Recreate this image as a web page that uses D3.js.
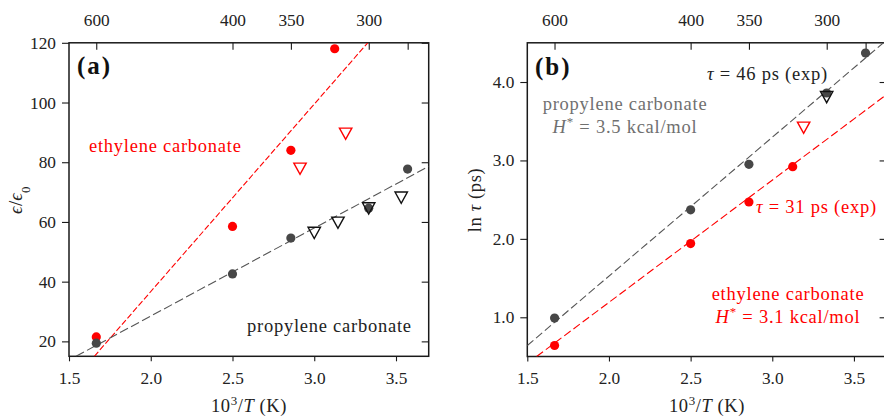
<!DOCTYPE html>
<html>
<head>
<meta charset="utf-8">
<script src="https://cdn.jsdelivr.net/npm/d3@7"></script>
<style>
  html, body { margin: 0; padding: 0; background: #fff; }
  svg { display: block; }
  text { font-family: "Liberation Serif", "DejaVu Serif"; }
</style>
</head>
<body>
<svg id="fig" width="884" height="417"></svg>
<script>
// ---------- data ----------
// temperatures shown on the secondary (top) axis, in K
const topTemps = [600, 400, 350, 300, 280];
const topTempLabels = ["600", "400", "350", "300", ""];
const xTicks = [1.5, 2.0, 2.5, 3.0, 3.5];

// (a) static dielectric constant vs 1000/T
const ecEpsX = [1.667, 2.5, 2.857, 3.125];
const ecEpsY = [21.5, 58.5, 84.0, 118.0];
const ecEpsExpX = [2.913, 3.192];
const ecEpsExpY = [77.9, 89.6];
const pcEpsX = [1.667, 2.5, 2.857, 3.333, 3.571];
const pcEpsY = [19.4, 42.6, 54.6, 64.6, 77.7];
const pcEpsExpX = [3.0, 3.145, 3.333, 3.532];
const pcEpsExpY = [56.4, 59.8, 64.6, 68.2];
const ecEpsFit = [[1.655, 15], [3.327, 120]];
const pcEpsFit = [[1.543, 15], [3.70, 78.6]];
const epsTicks = [20, 40, 60, 80, 100, 120];

// (b) ln of dielectric relaxation time vs 1000/T
const pcTauX = [1.667, 2.5, 2.857, 3.333, 3.571];
const pcTauY = [0.99, 2.37, 2.95, 3.86, 4.37];
const pcTauExpX = [3.333];
const pcTauExpY = [3.81];
const ecTauX = [1.667, 2.5, 2.857, 3.125];
const ecTauY = [0.64, 1.94, 2.47, 2.92];
const ecTauExpX = [3.192];
const ecTauExpY = [3.42];
const pcTauFit = [[1.50, 0.64], [3.70, 4.535]];
const ecTauFit = [[1.557, 0.5], [3.70, 3.84]];
const tauTicks = [1.0, 2.0, 3.0, 4.0];

// ---------- styling ----------
const RED = "#ff0000";
const DARK = "#474747";
const AXIS = "#1a1a1a";
const FONT = "'Liberation Serif', 'DejaVu Serif'";

const svg = d3.select("#fig");
const zip = (xs, ys) => xs.map((x, i) => ({ x, y: ys[i] }));

function panel(opts) {
  const { id, xRange, yDomain, yRange, yTicks, yFmt } = opts;
  const x = d3.scaleLinear().domain([1.5, 3.7]).range(xRange);
  const y = d3.scaleLinear().domain(yDomain).range(yRange);
  const g = svg.append("g").attr("class", "panel-" + id);

  const clipId = "clip-" + id;
  svg.append("clipPath").attr("id", clipId)
    .append("rect")
    .attr("x", xRange[0]).attr("y", yRange[1])
    .attr("width", xRange[1] - xRange[0]).attr("height", yRange[0] - yRange[1]);

  const styleAxis = sel => {
    sel.select(".domain").remove();
    sel.selectAll(".tick line").attr("stroke", AXIS).attr("stroke-width", 1.1);
    sel.selectAll(".tick text")
      .attr("fill", "#222").attr("font-size", 17.3)
      .style("font-family", FONT);
  };

  // bottom axis (outward ticks)
  g.append("g").attr("transform", `translate(0,${yRange[0]})`)
    .call(d3.axisBottom(x).tickValues(xTicks).tickFormat(d3.format(".1f"))
      .tickSizeInner(5).tickSizeOuter(0).tickPadding(10))
    .call(styleAxis);

  // left axis (outward ticks)
  g.append("g").attr("transform", `translate(${xRange[0]},0)`)
    .call(d3.axisLeft(y).tickValues(yTicks).tickFormat(yFmt)
      .tickSizeInner(7).tickSizeOuter(0).tickPadding(6))
    .call(styleAxis);

  // right axis (inward ticks, no labels)
  g.append("g").attr("transform", `translate(${xRange[1]},0)`)
    .call(d3.axisLeft(y).tickValues(yTicks).tickFormat("")
      .tickSizeInner(0).tickSizeOuter(0))
    .call(sel => {
      sel.select(".domain").remove();
      sel.selectAll(".tick line").attr("x1", -7).attr("x2", 0)
        .attr("stroke", AXIS).attr("stroke-width", 1.1);
    });

  // top axis: temperature in K at 1000/T (inward ticks)
  const topAxis = d3.axisTop(x)
    .tickValues(topTemps.map(t => 1000 / t))
    .tickFormat((d, i) => topTempLabels[i])
    .tickSizeInner(0).tickSizeOuter(0).tickPadding(17);
  g.append("g").attr("transform", `translate(0,${yRange[1]})`)
    .call(topAxis)
    .call(styleAxis)
    .call(sel => sel.selectAll(".tick line").attr("y1", 0).attr("y2", 7));

  // frame
  g.append("rect")
    .attr("x", xRange[0]).attr("y", yRange[1])
    .attr("width", xRange[1] - xRange[0]).attr("height", yRange[0] - yRange[1])
    .attr("fill", "none").attr("stroke", AXIS).attr("stroke-width", 1.5);

  const plot = g.append("g").attr("clip-path", `url(#${clipId})`);
  const line = d3.line().x(d => x(d[0])).y(d => y(d[1]));

  return { x, y, g, plot, line };
}

function fitLine(p, pts, color, dash) {
  p.plot.append("path").datum(pts)
    .attr("d", p.line).attr("fill", "none")
    .attr("stroke", color).attr("stroke-width", 1.1)
    .attr("stroke-dasharray", dash);
}
function dots(p, xs, ys, color) {
  p.g.append("g").selectAll("circle").data(zip(xs, ys)).join("circle")
    .attr("cx", d => p.x(d.x)).attr("cy", d => p.y(d.y))
    .attr("r", 4.6).attr("fill", color);
}
const triPath = "M-6.2,-5.4L6.2,-5.4L0,5.8Z";
function tris(p, xs, ys, color) {
  p.g.append("g").selectAll("path").data(zip(xs, ys)).join("path")
    .attr("transform", d => `translate(${p.x(d.x)},${p.y(d.y)})`)
    .attr("d", triPath).attr("fill", "none")
    .attr("stroke", color).attr("stroke-width", 1.4)
    .attr("stroke-linejoin", "miter");
}
function label(p, x, y, color, parts, opts = {}) {
  const t = p.g.append("text").attr("x", x).attr("y", y)
    .attr("fill", color).attr("font-size", opts.size || 18.5)
    .attr("letter-spacing", opts.ls != null ? opts.ls : 0.75)
    .style("font-family", FONT)
    .attr("text-anchor", opts.anchor || "start");
  parts.forEach(s => {
    const ts = t.append("tspan").text(s.t);
    if (s.i) ts.attr("font-style", "italic");
    if (s.sup) ts.attr("baseline-shift", "super").attr("font-size", "70%");
    if (s.sub) ts.attr("baseline-shift", "sub").attr("font-size", "70%");
  });
  return t;
}
function panelTag(p, x, y, txt) {
  p.g.append("text").attr("x", x).attr("y", y)
    .attr("font-size", 25).attr("font-weight", "bold").attr("letter-spacing", 2)
    .style("font-family", FONT).attr("fill", "#111").text(txt);
}

// ---------- panel (a) ----------
const A = panel({
  id: "a", xRange: [69, 428.7], yDomain: [15, 120], yRange: [356.3, 42.8],
  yTicks: epsTicks, yFmt: d3.format("d")
});
fitLine(A, ecEpsFit, RED, "6,2.4");
fitLine(A, pcEpsFit, "#555", "9,3.5");
dots(A, ecEpsX, ecEpsY, RED);
dots(A, pcEpsX, pcEpsY, DARK);
tris(A, ecEpsExpX, ecEpsExpY, RED);
tris(A, pcEpsExpX, pcEpsExpY, "#111");

panelTag(A, 77, 74, "(a)");
label(A, 89, 152, RED, [{ t: "ethylene carbonate" }]);
label(A, 247, 332, "#222", [{ t: "propylene carbonate" }]);

// axis titles (a)
label(A, 249, 412, "#222", [{ t: "10" }, { t: "3", sup: true }, { t: "/" }, { t: "T", i: true }, { t: " (K)" }],
  { anchor: "middle", ls: 0.6 });
label(A, 0, 0, "#222", [{ t: "ϵ", i: true }, { t: "/" }, { t: "ϵ", i: true }, { t: "0", sub: true }],
  { anchor: "middle", ls: 0.3 })
  .attr("transform", "translate(22,200) rotate(-90)");

// ---------- panel (b) ----------
const B = panel({
  id: "b", xRange: [527.3, 886.6], yDomain: [0.5, 4.5], yRange: [356.5, 42.8],
  yTicks: tauTicks, yFmt: d3.format(".1f")
});
fitLine(B, pcTauFit, "#555", "8,3.5");
fitLine(B, ecTauFit, RED, "8,3.5");
dots(B, pcTauX, pcTauY, DARK);
dots(B, ecTauX, ecTauY, RED);
tris(B, pcTauExpX, pcTauExpY, "#111");
tris(B, ecTauExpX, ecTauExpY, RED);

panelTag(B, 535, 75, "(b)");
label(B, 707, 80, "#222", [{ t: "τ", i: true }, { t: " = 46 ps (exp)" }]);
label(B, 625, 110, "#707070", [{ t: "propylene carbonate" }], { anchor: "middle" });
label(B, 625, 133, "#707070", [{ t: "H", i: true }, { t: "*", sup: true }, { t: " = 3.5 kcal/mol" }], { anchor: "middle" });
label(B, 756, 213, RED, [{ t: "τ", i: true }, { t: " = 31 ps (exp)" }]);
label(B, 788, 300, RED, [{ t: "ethylene carbonate" }], { anchor: "middle" });
label(B, 788, 323, RED, [{ t: "H", i: true }, { t: "*", sup: true }, { t: " = 3.1 kcal/mol" }], { anchor: "middle" });

// axis titles (b)
label(B, 707, 412, "#222", [{ t: "10" }, { t: "3", sup: true }, { t: "/" }, { t: "T", i: true }, { t: " (K)" }],
  { anchor: "middle", ls: 0.6 });
label(B, 0, 0, "#222", [{ t: "ln " }, { t: "τ", i: true }, { t: " (ps)" }],
  { anchor: "middle", ls: 0.6 })
  .attr("transform", "translate(481,200) rotate(-90)");
</script>
</body>
</html>
